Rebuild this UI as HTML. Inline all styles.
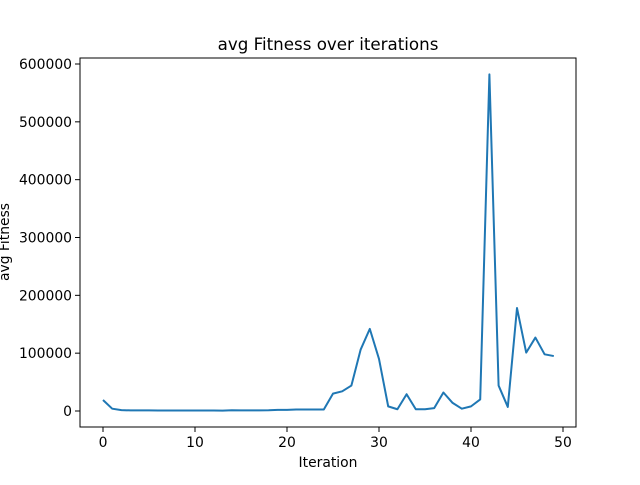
<!DOCTYPE html>
<html><head><meta charset="utf-8"><style>
body{margin:0;background:#fff}
svg text{font-family:"DejaVu Sans","Liberation Sans",sans-serif;fill:#000}
</style></head><body>
<svg id="chart" width="640" height="480" xmlns="http://www.w3.org/2000/svg">
<rect width="640" height="480" fill="#fff"/>
<text x="328" y="50" font-size="16.7" text-anchor="middle">avg Fitness over iterations</text>
<g id="xt"></g><g id="yt"></g>
<polyline id="line" fill="none" stroke="#1f77b4" stroke-width="2" stroke-linejoin="round"/>
<rect x="80" y="58" width="496" height="369" fill="none" stroke="#000" stroke-width="1"/>
<text x="328" y="467" font-size="13.9" text-anchor="middle">Iteration</text>
<text x="0" y="0" font-size="13.9" text-anchor="middle" transform="translate(9,242) rotate(-90)">avg Fitness</text>
</svg>
<script>
const fitness=[19000,4000,1500,1000,1000,1000,800,800,800,800,900,800,800,600,1200,1000,1000,1000,1200,2000,2000,2500,2500,2500,2500,30000,34000,44000,106000,142000,90000,8000,3000,29000,3000,3000,5000,32000,14000,4000,8000,20000,582000,44000,7000,178000,101000,127000,98000,95000];
const xTicks=[0,10,20,30,40,50];
const yTicks=[0,100000,200000,300000,400000,500000,600000];
const xs=v=>103+v*9.2;
const ys=v=>411-v*347/600000;
const NS="http://www.w3.org/2000/svg";
document.getElementById('line').setAttribute('points',fitness.map((v,i)=>xs(i)+','+ys(v)).join(' '));
const xt=document.getElementById('xt'),yt=document.getElementById('yt');
xTicks.forEach(t=>{
 const l=document.createElementNS(NS,'line');
 
 
 l.setAttribute('x1',xs(t));l.setAttribute('x2',xs(t));l.setAttribute('y1',427);l.setAttribute('y2',432);l.setAttribute('stroke','#000');l.setAttribute('stroke-width','1');xt.appendChild(l);
 const tx=document.createElementNS(NS,'text');
 
 
 tx.setAttribute('x',xs(t));tx.setAttribute('y',447);tx.setAttribute('font-size','13.9');tx.setAttribute('text-anchor','middle');tx.textContent=t;xt.appendChild(tx);
});
yTicks.forEach(t=>{
 const l=document.createElementNS(NS,'line');
 
 
 l.setAttribute('x1',75);l.setAttribute('x2',80);l.setAttribute('y1',ys(t));l.setAttribute('y2',ys(t));l.setAttribute('stroke','#000');l.setAttribute('stroke-width','1');yt.appendChild(l);
 const tx=document.createElementNS(NS,'text');
 
 
 tx.setAttribute('x',72);tx.setAttribute('y',ys(t)+5);tx.setAttribute('font-size','13.9');tx.setAttribute('text-anchor','end');tx.textContent=t;yt.appendChild(tx);
});
</script>
</body></html>
